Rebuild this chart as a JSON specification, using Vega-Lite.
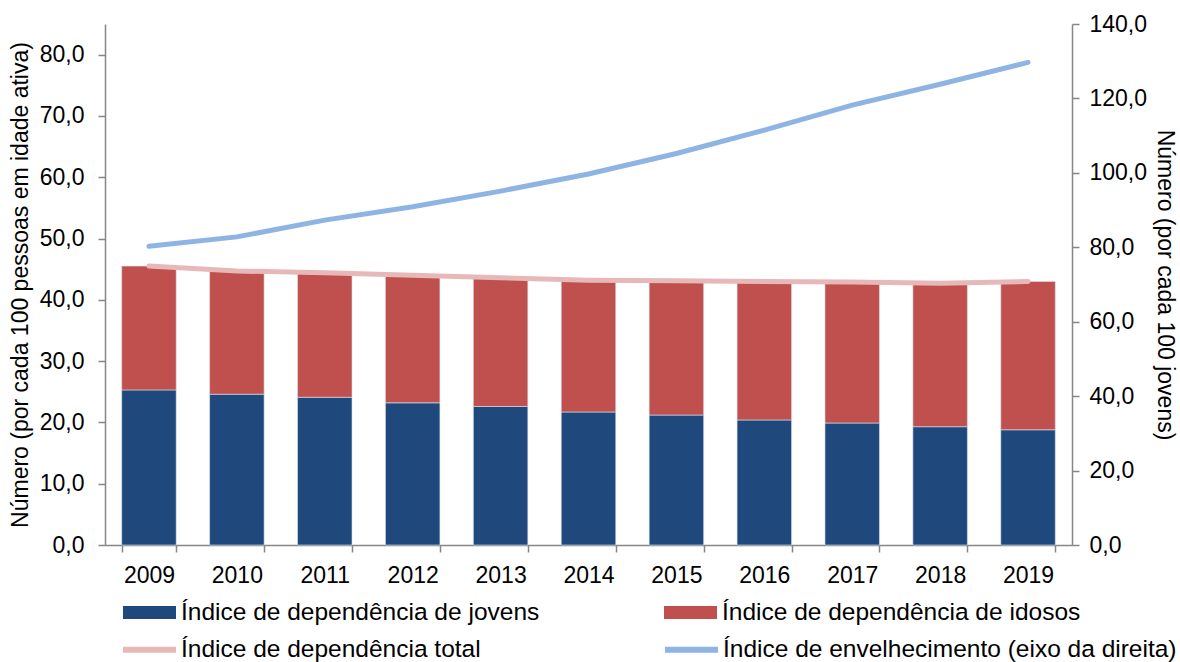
{
  "$schema": "https://vega.github.io/schema/vega-lite/v6.json",
  "autosize": "none",
  "width": 967,
  "height": 521,
  "padding": {"left": 105, "top": 24, "right": 108, "bottom": 117},
  "background": "white",
  "config": {
    "font": "Liberation Sans",
    "view": {"stroke": null},
    "axis": {
      "labelFont": "Liberation Sans",
      "titleFont": "Liberation Sans",
      "labelFontSize": 23,
      "titleFontSize": 23,
      "titleFontWeight": "normal",
      "labelColor": "#000000",
      "titleColor": "#000000",
      "domainColor": "#868686",
      "tickColor": "#868686",
      "domainWidth": 1.5,
      "tickWidth": 1.5,
      "grid": false
    },
    "legend": {
      "labelFont": "Liberation Sans",
      "labelFontSize": 24.5,
      "labelColor": "#000000",
      "labelLimit": 600
    }
  },
  "data": {
    "values": [
      {"ano": "2009", "serie": "Índice de dependência de jovens", "valor": 25.3},
      {"ano": "2010", "serie": "Índice de dependência de jovens", "valor": 24.6},
      {"ano": "2011", "serie": "Índice de dependência de jovens", "valor": 24.1},
      {"ano": "2012", "serie": "Índice de dependência de jovens", "valor": 23.2},
      {"ano": "2013", "serie": "Índice de dependência de jovens", "valor": 22.6},
      {"ano": "2014", "serie": "Índice de dependência de jovens", "valor": 21.7},
      {"ano": "2015", "serie": "Índice de dependência de jovens", "valor": 21.2},
      {"ano": "2016", "serie": "Índice de dependência de jovens", "valor": 20.4},
      {"ano": "2017", "serie": "Índice de dependência de jovens", "valor": 19.9},
      {"ano": "2018", "serie": "Índice de dependência de jovens", "valor": 19.3},
      {"ano": "2019", "serie": "Índice de dependência de jovens", "valor": 18.8},
      {"ano": "2009", "serie": "Índice de dependência de idosos", "valor": 20.2},
      {"ano": "2010", "serie": "Índice de dependência de idosos", "valor": 20.1},
      {"ano": "2011", "serie": "Índice de dependência de idosos", "valor": 20.3},
      {"ano": "2012", "serie": "Índice de dependência de idosos", "valor": 20.8},
      {"ano": "2013", "serie": "Índice de dependência de idosos", "valor": 21.0},
      {"ano": "2014", "serie": "Índice de dependência de idosos", "valor": 21.5},
      {"ano": "2015", "serie": "Índice de dependência de idosos", "valor": 21.9},
      {"ano": "2016", "serie": "Índice de dependência de idosos", "valor": 22.6},
      {"ano": "2017", "serie": "Índice de dependência de idosos", "valor": 23.0},
      {"ano": "2018", "serie": "Índice de dependência de idosos", "valor": 23.4},
      {"ano": "2019", "serie": "Índice de dependência de idosos", "valor": 24.2},
      {"ano": "2009", "serie": "Índice de dependência total", "valor": 45.5},
      {"ano": "2010", "serie": "Índice de dependência total", "valor": 44.7},
      {"ano": "2011", "serie": "Índice de dependência total", "valor": 44.4},
      {"ano": "2012", "serie": "Índice de dependência total", "valor": 44.0},
      {"ano": "2013", "serie": "Índice de dependência total", "valor": 43.6},
      {"ano": "2014", "serie": "Índice de dependência total", "valor": 43.2},
      {"ano": "2015", "serie": "Índice de dependência total", "valor": 43.1},
      {"ano": "2016", "serie": "Índice de dependência total", "valor": 43.0},
      {"ano": "2017", "serie": "Índice de dependência total", "valor": 42.9},
      {"ano": "2018", "serie": "Índice de dependência total", "valor": 42.7},
      {"ano": "2019", "serie": "Índice de dependência total", "valor": 43.0},
      {"ano": "2009", "serie": "Índice de envelhecimento (eixo da direita)", "valor": 80.3},
      {"ano": "2010", "serie": "Índice de envelhecimento (eixo da direita)", "valor": 82.8},
      {"ano": "2011", "serie": "Índice de envelhecimento (eixo da direita)", "valor": 87.3},
      {"ano": "2012", "serie": "Índice de envelhecimento (eixo da direita)", "valor": 90.9},
      {"ano": "2013", "serie": "Índice de envelhecimento (eixo da direita)", "valor": 95.1},
      {"ano": "2014", "serie": "Índice de envelhecimento (eixo da direita)", "valor": 99.7},
      {"ano": "2015", "serie": "Índice de envelhecimento (eixo da direita)", "valor": 105.2},
      {"ano": "2016", "serie": "Índice de envelhecimento (eixo da direita)", "valor": 111.5},
      {"ano": "2017", "serie": "Índice de envelhecimento (eixo da direita)", "valor": 118.2},
      {"ano": "2018", "serie": "Índice de envelhecimento (eixo da direita)", "valor": 123.8},
      {"ano": "2019", "serie": "Índice de envelhecimento (eixo da direita)", "valor": 129.7}
    ]
  },
  "encoding": {
    "x": {
      "field": "ano",
      "type": "ordinal",
      "scale": {"paddingInner": 0.38, "paddingOuter": 0.19},
      "axis": {
        "title": null,
        "labelAngle": 0,
        "tickBand": "extent",
        "tickSize": 7,
        "labelPadding": 12
      }
    }
  },
  "layer": [
    {
      "layer": [
        {
          "transform": [{"filter": "indexof(datum.serie, 'jovens') >= 0 || indexof(datum.serie, 'idosos') >= 0"}],
          "mark": {"type": "bar", "stroke": "#dbe3ee", "strokeWidth": 0.6},
          "encoding": {
            "y": {
              "field": "valor",
              "type": "quantitative",
              "stack": "zero",
              "scale": {"domain": [0, 85], "nice": false},
              "axis": {
                "title": "Número (por cada 100 pessoas em idade ativa)",
                "values": [0, 10, 20, 30, 40, 50, 60, 70, 80],
                "labelExpr": "replace(format(datum.value, '.1f'), '.', ',')",
                "tickSize": 7,
                "labelPadding": 14,
                "titlePadding": 7
              }
            },
            "fill": {
              "field": "serie",
              "type": "nominal",
              "scale": {
                "domain": ["Índice de dependência de jovens", "Índice de dependência de idosos"],
                "range": ["#1f497d", "#c0504d"]
              },
              "legend": {
                "title": null,
                "orient": "none",
                "legendX": 18,
                "legendY": 562,
                "direction": "horizontal",
                "columns": 2,
                "columnPadding": 124,
                "symbolType": "M-1,-0.245H1V0.245H-1Z",
                "symbolSize": 2809,
                "symbolStrokeWidth": 0,
                "labelOffset": 5
              }
            },
            "order": {"field": "serie", "sort": "descending"}
          }
        },
        {
          "transform": [{"filter": "indexof(datum.serie, 'total') >= 0"}],
          "mark": {"type": "line", "strokeWidth": 5, "strokeCap": "round"},
          "encoding": {
            "y": {"field": "valor", "type": "quantitative"},
            "stroke": {
              "field": "serie",
              "type": "nominal",
              "scale": {
                "domain": ["Índice de dependência total", "Índice de envelhecimento (eixo da direita)"],
                "range": ["#e6b9b8", "#8eb4e3"]
              },
              "legend": {
                "title": null,
                "orient": "none",
                "legendX": 15,
                "legendY": 596,
                "direction": "horizontal",
                "columns": 2,
                "columnPadding": 172,
                "symbolType": "stroke",
                "symbolSize": 2809,
                "symbolStrokeWidth": 6,
                "labelOffset": 2
              }
            }
          }
        }
      ]
    },
    {
      "transform": [{"filter": "indexof(datum.serie, 'envelhecimento') >= 0"}],
      "mark": {"type": "line", "strokeWidth": 5, "strokeCap": "round"},
      "encoding": {
        "y": {
          "field": "valor",
          "type": "quantitative",
          "scale": {"domain": [0, 140], "nice": false},
          "axis": {
            "orient": "right",
            "title": "Número (por cada 100 jovens)",
            "values": [0, 20, 40, 60, 80, 100, 120, 140],
            "labelExpr": "replace(format(datum.value, '.1f'), '.', ',')",
            "tickSize": 7,
            "labelPadding": 10,
            "titlePadding": 6
          }
        },
        "stroke": {"field": "serie", "type": "nominal"}
      }
    }
  ],
  "resolve": {"scale": {"y": "independent"}}
}
